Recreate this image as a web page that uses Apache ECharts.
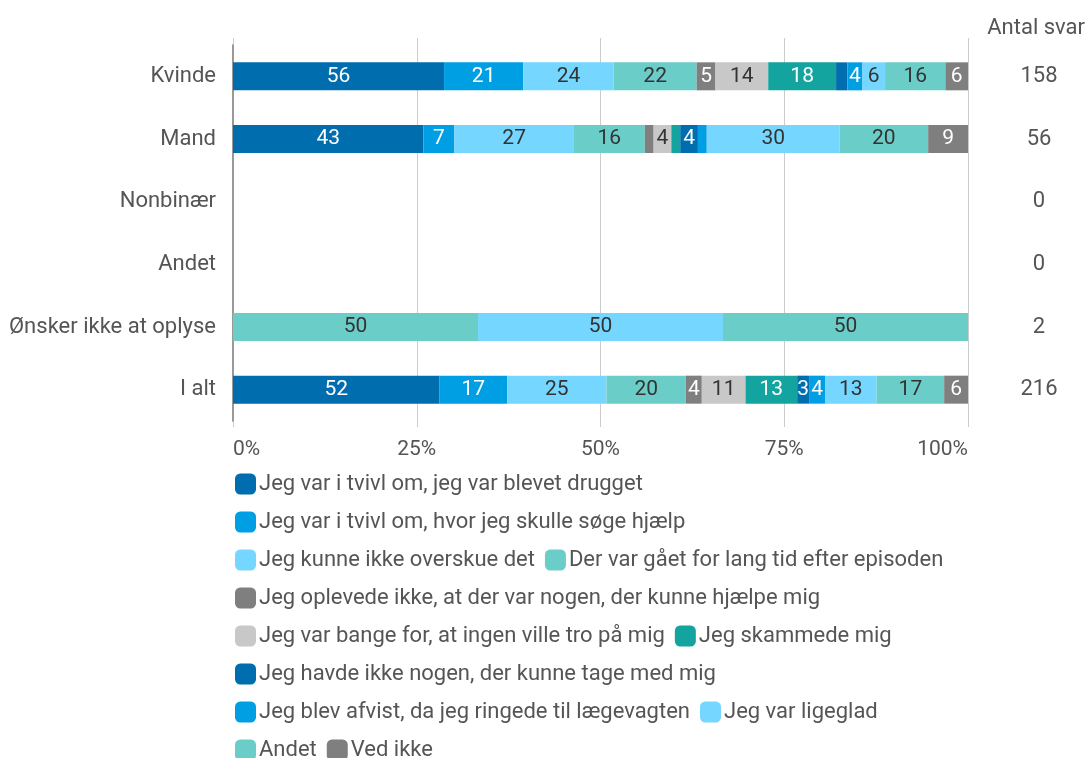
<!DOCTYPE html>
<html>
<head>
<meta charset="utf-8">
<script src="https://cdn.jsdelivr.net/npm/echarts@6/dist/echarts.min.js"></script>
<style>
  html, body { margin: 0; padding: 0; background: #fff; }
  #chart { width: 1089px; height: 758px; }
</style>
</head>
<body>
<div id="chart"></div>
<script>
// kategorier og antal svar
const categories = ['Kvinde', 'Mand', 'Nonbinær', 'Andet', 'Ønsker ikke at oplyse', 'I alt']
const antalSvar = [158, 56, 0, 0, 2, 216]
const xTicks = [0, 25, 50, 75, 100]

const seriesNames = [
  'Jeg var i tvivl om, jeg var blevet drugget',
  'Jeg var i tvivl om, hvor jeg skulle søge hjælp',
  'Jeg kunne ikke overskue det',
  'Der var gået for lang tid efter episoden',
  'Jeg oplevede ikke, at der var nogen, der kunne hjælpe mig',
  'Jeg var bange for, at ingen ville tro på mig',
  'Jeg skammede mig',
  'Jeg havde ikke nogen, der kunne tage med mig',
  'Jeg blev afvist, da jeg ringede til lægevagten',
  'Jeg var ligeglad',
  'Andet',
  'Ved ikke'
]

// værdier pr. serie (samme rækkefølge som categories)
const drugget = [56, 43, 0, 0, 0, 52]
const soegeHjaelp = [21, 7, 0, 0, 0, 17]
const overskue = [24, 27, 0, 0, 0, 25]
const langTid = [22, 16, 0, 0, 50, 20]
const ingenHjaelp = [5, 2, 0, 0, 0, 4]
const bange = [14, 4, 0, 0, 0, 11]
const skammede = [18, 2, 0, 0, 0, 13]
const ingenMed = [3, 4, 0, 0, 0, 3]
const afvist = [4, 2, 0, 0, 0, 4]
const ligeglad = [6, 30, 0, 0, 50, 13]
const andet = [16, 20, 0, 0, 50, 17]
const vedIkke = [6, 9, 0, 0, 0, 6]

const seriesValues = [drugget, soegeHjaelp, overskue, langTid, ingenHjaelp, bange,
  skammede, ingenMed, afvist, ligeglad, andet, vedIkke]

const colors = ['#006eae', '#009fe3', '#75d6ff', '#6bcdc8', '#7f7f7f', '#c8c8c8',
  '#13a4a0', '#006eae', '#009fe3', '#75d6ff', '#6bcdc8', '#7f7f7f']
const labelColors = ['#fff', '#fff', '#333', '#333', '#fff', '#333',
  '#fff', '#fff', '#fff', '#333', '#333', '#fff']

// summer pr. kategori -> 100% stablet
const totals = categories.map((c, i) => seriesValues.reduce((s, arr) => s + arr[i], 0))

const chart = echarts.init(document.getElementById('chart'))

const series = seriesNames.map((name, k) => ({
  name: name,
  type: 'bar',
  stack: 'total',
  xAxisIndex: 0,
  yAxisIndex: 0,
  barWidth: 28,
  itemStyle: { color: colors[k] },
  label: {
    show: true,
    color: labelColors[k],
    fontSize: 21,
    fontFamily: 'Roboto',
    formatter: p => {
      const raw = seriesValues[k][p.dataIndex]
      return raw / totals[p.dataIndex] >= 0.016 ? String(raw) : ''
    }
  },
  data: seriesValues[k].map((v, i) => (v && totals[i] ? v / totals[i] * 100 : null))
}))

chart.setOption({
  animation: false,
  textStyle: { fontFamily: 'Roboto' },
  title: {
    text: 'Antal svar',
    right: 4,
    top: 17,
    padding: 0,
    textStyle: { fontSize: 22, fontWeight: 'normal', color: '#555', fontFamily: 'Roboto' }
  },
  grid: { left: 233, right: 121, top: 45, height: 376 },
  legend: {
    left: 230,
    top: 465,
    width: 730,
    itemGap: 10,
    itemWidth: 21,
    itemHeight: 21,
    icon: 'roundRect',
    textStyle: { fontSize: 22, color: '#555', lineHeight: 28, padding: [0, 0, 0, -2] },
    data: seriesNames
  },
  xAxis: [
    {
      type: 'value',
      min: 0,
      max: 100,
      interval: 25,
      axisLine: { show: false },
      axisTick: { show: true, length: 6, lineStyle: { color: '#ccc' } },
      splitLine: { show: true, lineStyle: { color: '#ccc' } },
      axisLabel: {
        margin: 18,
        fontSize: 21,
        color: '#555',
        alignMinLabel: 'left',
        alignMaxLabel: 'right',
        formatter: v => (xTicks.indexOf(v) >= 0 ? v + '%' : '')
      }
    },
    {
      type: 'value',
      position: 'top',
      min: 0,
      max: 100,
      interval: 25,
      axisLine: { show: false },
      axisTick: { show: true, length: 7, lineStyle: { color: '#ccc' } },
      splitLine: { show: false },
      axisLabel: { show: false }
    }
  ],
  yAxis: [
    {
      type: 'category',
      inverse: true,
      data: categories,
      axisLine: { show: true, lineStyle: { color: '#999', width: 2 } },
      axisTick: { show: false },
      axisLabel: { fontSize: 22, color: '#555', margin: 17 }
    },
    {
      type: 'category',
      inverse: true,
      position: 'right',
      data: antalSvar.map(String),
      axisLine: { show: false },
      axisTick: { show: false },
      axisLabel: { fontSize: 22, color: '#555', margin: 71, align: 'center' }
    }
  ],
  series: series
})
</script>
</body>
</html>
